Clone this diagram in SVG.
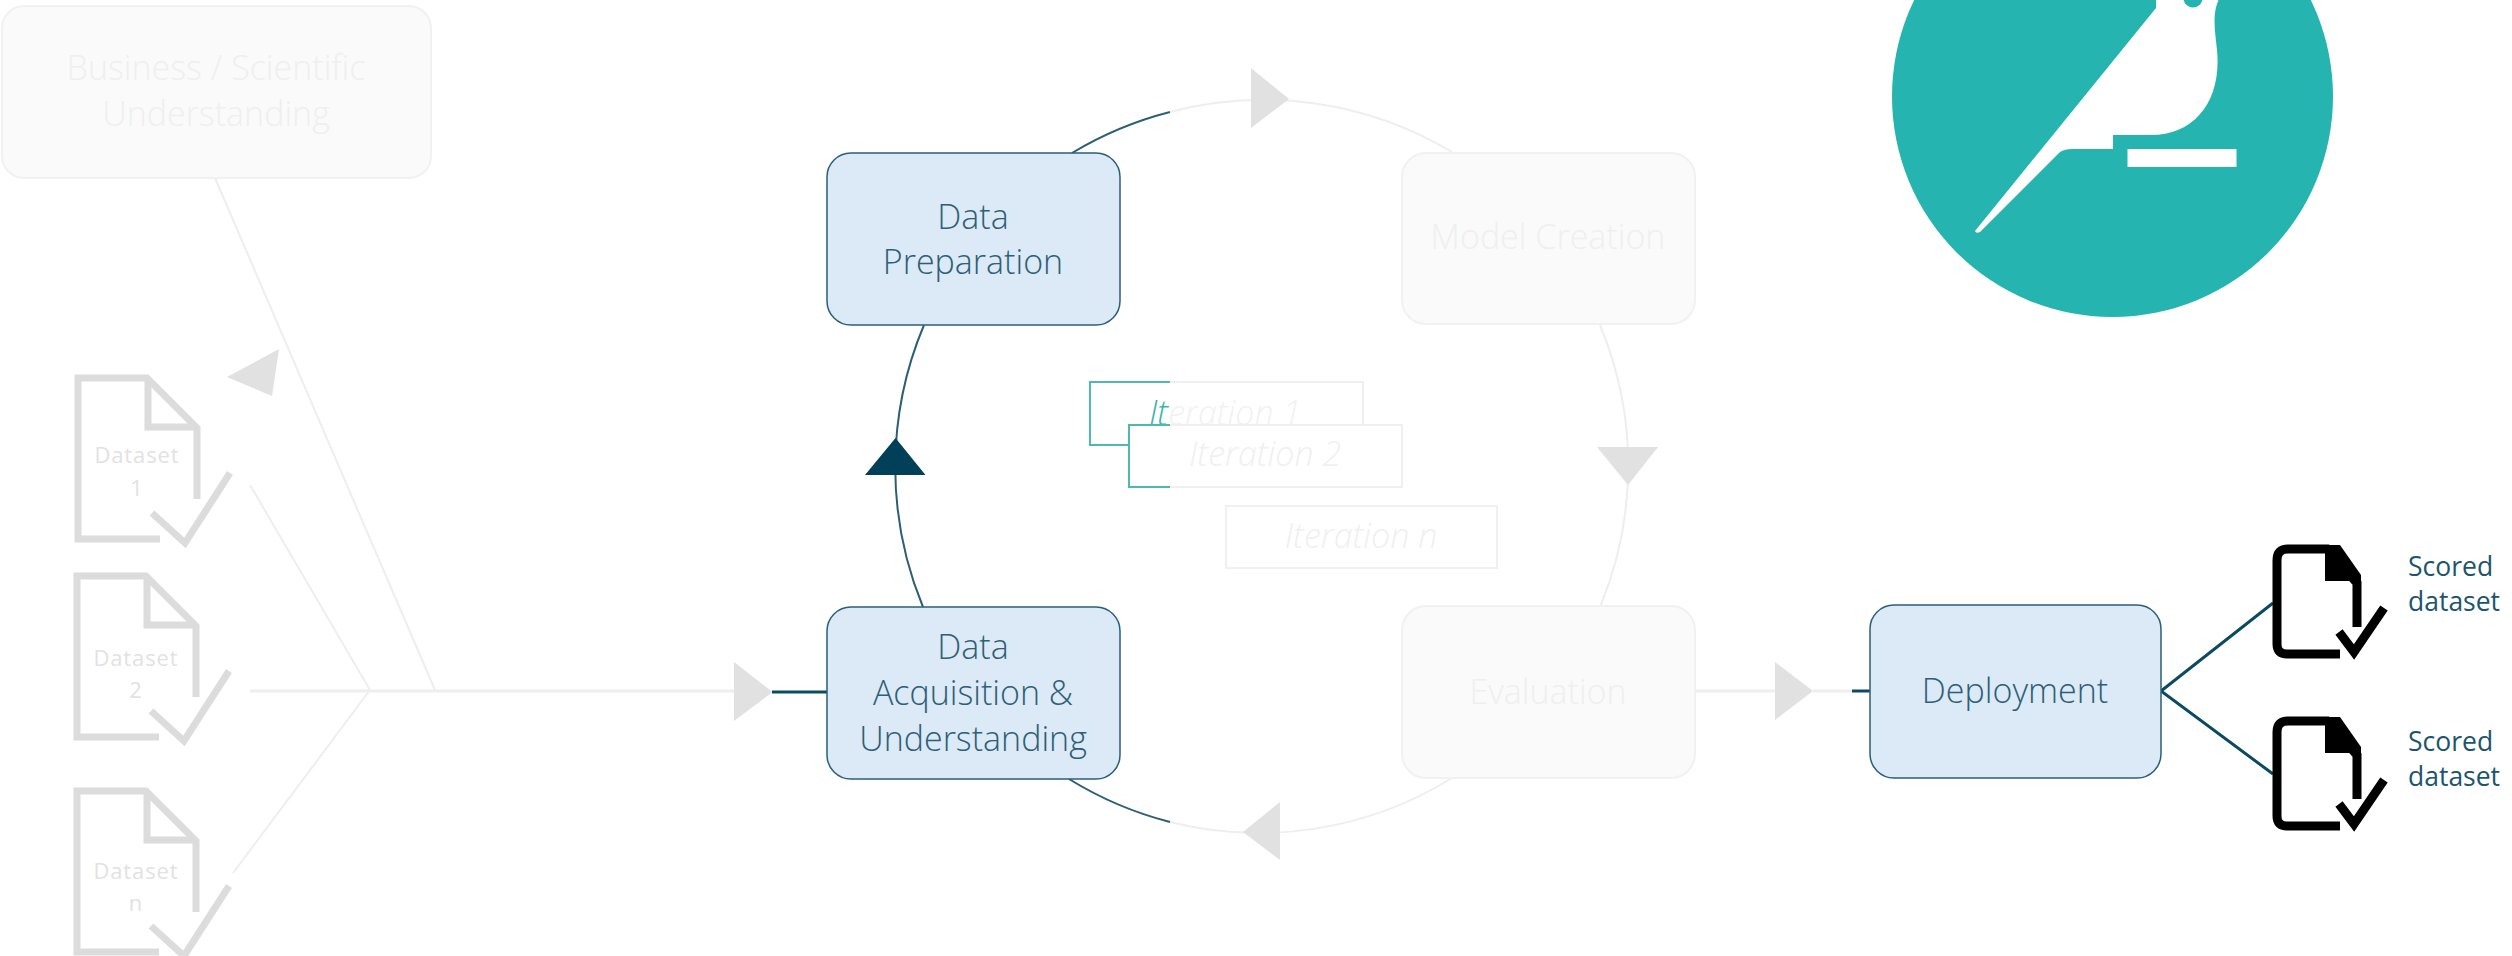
<svg xmlns="http://www.w3.org/2000/svg" width="2512" height="956" viewBox="0 0 2512 956">
<style>
text{font-family:"Open Sans","Noto Sans","Liberation Sans",sans-serif;font-weight:300;text-anchor:middle}
.n{font-size:34px}
.on rect{fill:#dce9f6;stroke:#2a5f78;stroke-width:1.500}
.on text{fill:#2d6077}
.off rect{fill:#fafafa;stroke:#f1f1f1;stroke-width:2}
.off text{fill:#efefef}
.it{font-size:34px;font-style:italic}
.ds path{fill:none;stroke:#dcdcdc;stroke-width:7}
.ds text{font-size:22px;font-weight:400;fill:#e2e2e2;letter-spacing:.9px}
.sc{font-size:26.500px;fill:#1b566c;font-weight:400;text-anchor:start}
.fl{fill:none;stroke:#eeeeee;stroke-width:2}
.dk{fill:none;stroke:#2c5f76;stroke-width:2}
.fh{fill:#e1e1e1;stroke:none}
.de{fill:none;stroke:#0b4a60;stroke-width:3}
</style>
<defs>
<linearGradient id="ts" gradientUnits="userSpaceOnUse" x1="1000" y1="0" x2="1500" y2="0">
<stop offset="0.34" stop-color="#4fb9b0"/><stop offset="0.34" stop-color="#efefef"/>
</linearGradient>
<linearGradient id="tf" gradientUnits="userSpaceOnUse" x1="1000" y1="0" x2="1500" y2="0">
<stop offset="0.34" stop-color="#3fb3aa"/><stop offset="0.34" stop-color="#f1f1f1"/>
</linearGradient>
<g id="scored"><path d="M2340 654H2287Q2277 654 2277 644V560Q2277 549 2288 549H2327L2357 583V627" fill="none" stroke="#000" stroke-width="9"/><path d="M2325 545H2340L2361 575V581H2325Z" fill="#000"/><path d="M2337 632L2354 653L2384 608" fill="none" stroke="#fff" stroke-width="15"/><path d="M2339 632L2354 652L2384 608" fill="none" stroke="#000" stroke-width="9"/></g>
</defs>

<g id="connectors">
<path class="fl" d="M215 178L435 690"/>
<path class="fl" d="M250 485L370 690"/>
<path class="fl" d="M233 873L370 690"/>
<path class="fl" style="stroke-width:3" d="M250 691H734"/>
<path class="fh" d="M227 377L279 349L272 396Z"/>
<path class="fh" d="M734 662L772.500 692L734 721Z"/>
<path class="de" d="M772 692H827"/>
<path class="dk" d="M1072 153A366 366 0 0 1 1170 112"/>
<path class="fl" d="M1170 112A366 366 0 0 1 1452 152"/>
<path class="fh" d="M1251 68L1289 99L1251 128Z"/>
<path class="fl" d="M1600 325A366 366 0 0 1 1600 607"/>
<path class="fh" d="M1597 447H1658L1628 485Z"/>
<path class="fl" d="M1452 778A366 366 0 0 1 1170 822"/>
<path class="dk" d="M1170 822A366 366 0 0 1 1069 779"/>
<path class="fh" d="M1280 802L1243 832L1280 860Z"/>
<path class="dk" d="M924 325A366 366 0 0 0 923 607"/>
<path d="M865 475H925.500L895.500 438Z" fill="#023f58"/>
<path class="fl" style="stroke-width:3" d="M1695 691H1776"/>
<path class="fh" d="M1775 662L1813 691L1775 720Z"/>
<path class="fl" style="stroke-width:3" d="M1813 691H1852"/>
<path class="de" d="M1852 691H1870"/>
<path class="de" d="M2273 603L2161 691L2273 774"/>
</g>

<g id="node-business" class="off"><rect x="2" y="6" width="429" height="172" rx="22"/><text class="n" x="216" y="80">Business / Scientific</text><text class="n" x="216" y="126">Understanding</text></g>
<g id="node-preparation" class="on"><rect x="827" y="153" width="293" height="172" rx="24"/><text class="n" x="973" y="229">Data</text><text class="n" x="973" y="274">Preparation</text></g>
<g id="node-acquisition" class="on"><rect x="827" y="607" width="293" height="172" rx="24"/><text class="n" x="973" y="659">Data</text><text class="n" x="973" y="705">Acquisition &amp;</text><text class="n" x="973" y="751">Understanding</text></g>
<g id="node-model" class="off"><rect x="1402" y="153" width="293" height="171" rx="24"/><text class="n" x="1548" y="249">Model Creation</text></g>
<g id="node-evaluation" class="off"><rect x="1402" y="606" width="293" height="172" rx="24"/><text class="n" x="1548" y="704">Evaluation</text></g>
<g id="node-deployment" class="on"><rect x="1870" y="605" width="291" height="173" rx="24"/><text class="n" x="2015" y="703">Deployment</text></g>

<g id="iter-1"><rect x="1090" y="382" width="273" height="63" fill="#fff" stroke="url(#ts)" stroke-width="2"/><text class="it" x="1225" y="425" fill="url(#tf)">Iteration 1</text></g>
<g id="iter-2"><rect x="1129" y="425" width="273" height="62" fill="#fff" stroke="url(#ts)" stroke-width="2"/><text class="it" x="1265" y="466" fill="#f0f0f0">Iteration 2</text></g>
<g id="iter-n"><rect x="1226" y="506" width="271" height="62" fill="#fff" stroke="#f0f0f0" stroke-width="2"/><text class="it" x="1361" y="548" fill="#f0f0f0">Iteration n</text></g>

<g id="dataset-1" class="ds" transform="translate(1 -198)"><path d="M159 737H77V576H146L196 626V697"/><path d="M147 576V625H196"/><path d="M151 711L184 741L229 671"/><text x="136" y="661">Dataset</text><text x="136" y="694">1</text></g>
<g id="dataset-2" class="ds"><path d="M159 737H77V576H146L196 626V697"/><path d="M147 576V625H196"/><path d="M151 711L184 741L229 671"/><text x="136" y="666">Dataset</text><text x="136" y="698">2</text></g>
<g id="dataset-n" class="ds" transform="translate(0 215)"><path d="M159 737H77V576H146L196 626V697"/><path d="M147 576V625H196"/><path d="M151 711L184 741L229 671"/><text x="136" y="664">Dataset</text><text x="136" y="696">n</text></g>

<g id="scored-1"><use href="#scored"/><text class="sc" x="2408" y="576">Scored</text><text class="sc" x="2408" y="611">dataset</text></g>
<g id="scored-2"><use href="#scored" y="172"/><text class="sc" x="2408" y="751">Scored</text><text class="sc" x="2408" y="786">dataset</text></g>

<g id="logo">
<circle cx="2112.500" cy="96.500" r="220.500" fill="#25b4af"/>
<path fill="#fff" d="M2156 0V8L1975 231Q1976 234 1980 232L2058 154Q2062 149 2073 149H2113V135H2151C2195 135 2222 100 2217 50C2215 30 2212 15 2218.500 0Z"/>
<circle cx="2193" cy="-2" r="9.500" fill="#25b4af"/>
<rect x="2127.500" y="149" width="109" height="18" fill="#fff"/>
</g>
</svg>
